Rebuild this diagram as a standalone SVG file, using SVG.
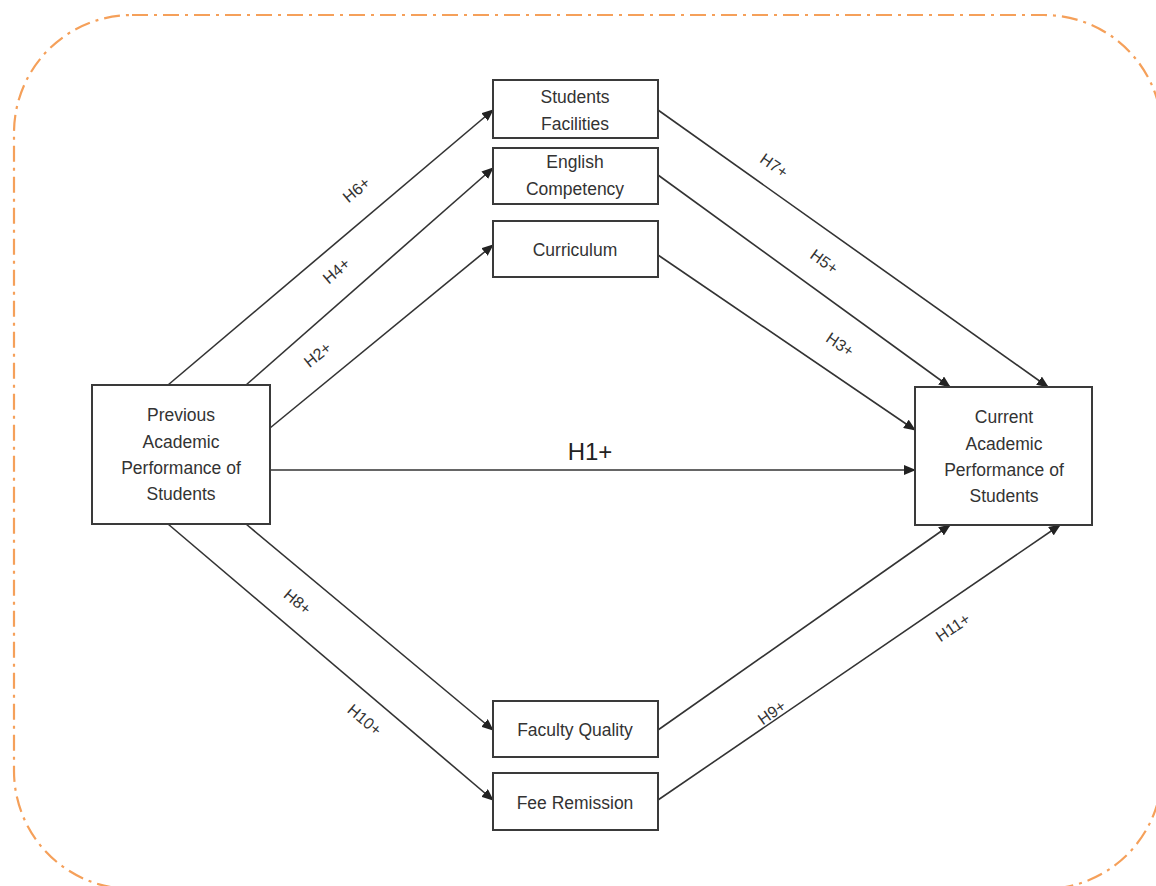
<svg xmlns="http://www.w3.org/2000/svg" width="1156" height="886" viewBox="0 0 1156 886">
<style>
.box{fill:#fff;stroke:#3a3a3a;stroke-width:2}
.t{font-family:"Liberation Sans",Arial,sans-serif;font-size:17.5px;fill:#333;text-anchor:middle}
.lb{font-family:"Liberation Sans",Arial,sans-serif;font-size:16px;fill:#333;text-anchor:middle}
.c line{stroke:#333;stroke-width:1.6;marker-end:url(#ah)}
</style>
<defs>
<marker id="ah" markerWidth="12" markerHeight="10" refX="11" refY="5" orient="auto" markerUnits="userSpaceOnUse">
<path d="M0,0 L12,5 L0,10 z" fill="#222"/>
</marker>
</defs>
<rect width="1156" height="886" fill="#fff"/>
<rect x="14" y="15" width="1148" height="874" rx="118" fill="none" stroke="#F5A05A" stroke-width="2.2" stroke-dasharray="16 6 3 6"/>
<g class="c" id="connectors">
<line x1="168" y1="385" x2="493" y2="110"/>
<line x1="246" y1="385" x2="493" y2="168"/>
<line x1="270" y1="428" x2="493" y2="245"/>
<line x1="270" y1="470" x2="915" y2="470"/>
<line x1="246" y1="524" x2="493" y2="730"/>
<line x1="168" y1="524" x2="493" y2="800"/>
<line x1="658" y1="110" x2="1048" y2="387"/>
<line x1="658" y1="175" x2="950" y2="387"/>
<line x1="658" y1="255" x2="915" y2="430"/>
<line x1="658" y1="730" x2="950" y2="525"/>
<line x1="658" y1="800" x2="1060" y2="525"/>
</g>
<g id="labels">
<text class="lb" transform="translate(360,194) rotate(-40)">H6+</text>
<text class="lb" transform="translate(340,275) rotate(-41)">H4+</text>
<text class="lb" transform="translate(321,359) rotate(-39)">H2+</text>
<text x="590" y="460" font-family="Liberation Sans,Arial,sans-serif" font-size="24" fill="#222" text-anchor="middle">H1+</text>
<text class="lb" transform="translate(771,170) rotate(35)">H7+</text>
<text class="lb" transform="translate(821,266) rotate(36)">H5+</text>
<text class="lb" transform="translate(837,349) rotate(34)">H3+</text>
<text class="lb" transform="translate(294,606) rotate(40)">H8+</text>
<text class="lb" transform="translate(361,724) rotate(40)">H10+</text>
<text class="lb" transform="translate(775,717) rotate(-35)">H9+</text>
<text class="lb" transform="translate(956,632) rotate(-34)">H11+</text>
</g>
<g id="node-facilities">
<rect class="box" x="493" y="80" width="165" height="58"/>
<text class="t" x="575" y="103">Students</text>
<text class="t" x="575" y="130">Facilities</text>
</g>
<g id="node-english">
<rect class="box" x="493" y="148" width="165" height="56"/>
<text class="t" x="575" y="168">English</text>
<text class="t" x="575" y="195">Competency</text>
</g>
<g id="node-curriculum">
<rect class="box" x="493" y="221" width="165" height="56"/>
<text class="t" x="575" y="256">Curriculum</text>
</g>
<g id="node-previous">
<rect class="box" x="92" y="385" width="178" height="139"/>
<text class="t" x="181" y="421">Previous</text>
<text class="t" x="181" y="448">Academic</text>
<text class="t" x="181" y="474">Performance of</text>
<text class="t" x="181" y="500">Students</text>
</g>
<g id="node-current">
<rect class="box" x="915" y="387" width="177" height="138"/>
<text class="t" x="1004" y="423">Current</text>
<text class="t" x="1004" y="450">Academic</text>
<text class="t" x="1004" y="476">Performance of</text>
<text class="t" x="1004" y="502">Students</text>
</g>
<g id="node-faculty">
<rect class="box" x="493" y="701" width="165" height="56"/>
<text class="t" x="575" y="736">Faculty Quality</text>
</g>
<g id="node-fee">
<rect class="box" x="493" y="773" width="165" height="57"/>
<text class="t" x="575" y="809">Fee Remission</text>
</g>
</svg>
